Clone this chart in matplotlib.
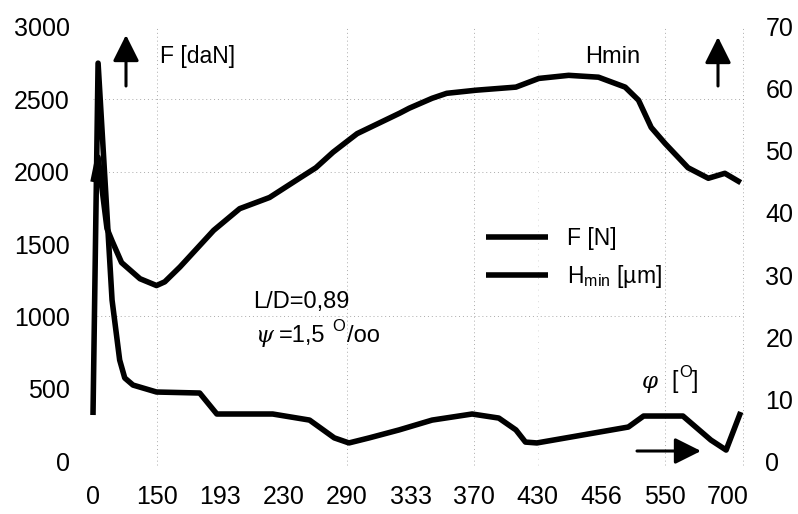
import matplotlib
matplotlib.use("Agg")
import matplotlib.pyplot as plt

plt.rcParams['font.family'] = ['Liberation Sans', 'DejaVu Sans']
plt.rcParams['mathtext.fontset'] = 'custom'
plt.rcParams['mathtext.rm'] = 'Liberation Sans'
plt.rcParams['mathtext.it'] = 'Liberation Sans:italic'

# crank angle categories shown on the x axis
phi_labels = ["0", "150", "193", "230", "290", "333", "370", "430", "456", "550", "700"]

# bearing load F [daN] (left axis), positions on the category scale
f_pos = [0.0, 0.08, 0.30, 0.42, 0.50, 0.63, 1.00, 1.68, 1.95, 2.83, 3.41, 3.80,
         4.03, 4.35, 4.82, 5.34, 5.97, 6.39, 6.66, 6.81, 6.99, 8.43, 8.67, 9.29,
         9.73, 9.97, 10.20]
f_dan = [318, 2750, 1113, 698, 574, 525, 477, 470, 325, 325, 283, 160,
         125, 160, 215, 283, 325, 297, 215, 131, 125, 235, 311, 311,
         145, 76, 339]

# minimum film thickness Hmin [um] (right axis)
h_pos = [0.0, 0.08, 0.22, 0.30, 0.45, 0.74, 1.00, 1.13, 1.37, 1.90, 2.31, 2.78,
         3.25, 3.51, 3.78, 4.02, 4.16, 4.83, 4.98, 5.34, 5.57, 6.03, 6.66, 7.02,
         7.49, 7.96, 8.38, 8.59, 8.79, 9.01, 9.37, 9.69, 9.95, 10.20]
h_um = [45.0, 49.0, 37.5, 35.5, 32.0, 29.4, 28.3, 28.9, 31.3, 37.2, 40.7, 42.5,
        45.6, 47.3, 49.8, 51.7, 52.8, 56.1, 56.9, 58.5, 59.3, 59.8, 60.3, 61.7,
        62.2, 61.9, 60.3, 58.2, 53.8, 51.2, 47.3, 45.6, 46.4, 44.9]

f_ticks = [0, 500, 1000, 1500, 2000, 2500, 3000]
h_ticks = [0, 10, 20, 30, 40, 50, 60, 70]

W, H = 798, 514


def fx(px):
    return px / W


def fy(py):
    return 1 - py / H


fig = plt.figure(figsize=(W / 100, H / 100), dpi=100)
ax = fig.add_axes([fx(85), fy(475.5), (750 - 85) / W, (475.5 - 12.5) / H])
ax2 = ax.twinx()

for a in (ax, ax2):
    for s in a.spines.values():
        s.set_visible(False)
    a.set_facecolor('none')

ax.set_xlim(-0.126, 10.346)
ax.set_ylim(-100, 3100)
ax2.set_ylim(-100 * 70 / 3000, 3100 * 70 / 3000)

ax.set_xticks(range(len(phi_labels)))
ax.set_xticklabels(phi_labels)
ax.set_yticks(f_ticks)
ax2.set_yticks(h_ticks)
ax.tick_params(axis='x', length=0, pad=7, labelsize=18)
ax.tick_params(axis='y', length=0, pad=11, labelsize=18)
ax2.tick_params(axis='y', length=0, pad=11, labelsize=18)

# sparse dotted grid
grid_kw = dict(color='0.45', lw=0.7, ls=(0, (1, 3)), alpha=0.6, zorder=0)
for gx in (1, 4, 6, 9, 10.24):
    ax.plot([gx, gx], [-30, 3000], **grid_kw)
ax.plot([7, 7], [-30, 3000], color='0.6', lw=0.6, ls=(0, (1, 6)), alpha=0.5, zorder=0)
for gy in (1000, 2000, 2500):
    ax.plot([0, 10.24], [gy, gy], **grid_kw)

line_f, = ax.plot(f_pos, f_dan, color='black', lw=4, solid_joinstyle='round',
                  solid_capstyle='butt', zorder=3)
line_h, = ax2.plot(h_pos, h_um, color='black', lw=4, solid_joinstyle='round',
                   solid_capstyle='butt', zorder=3)

fig.legend([line_f, line_h], ["F [N]", r"H$_{\mathrm{min}}$ [µm]"],
           loc='upper left', bbox_to_anchor=(fx(486), fy(227)), frameon=False,
           handlelength=2.7, handletextpad=0.85, labelspacing=0.55,
           fontsize=16.5, borderaxespad=0, borderpad=0)

tsz = 16.5
fig.text(fx(160), fy(63), "F [daN]", fontsize=tsz, va='baseline')
fig.text(fx(585), fy(63), "Hmin", fontsize=17, va='baseline')
fig.text(fx(253), fy(308), "L/D=0,89", fontsize=17, va='baseline')
fig.text(fx(255), fy(342), "ψ", fontsize=tsz, va='baseline', style='italic',
         family=['DejaVu Serif'])
fig.text(fx(279), fy(342), "=1,5", fontsize=17, va='baseline')
fig.text(fx(332), fy(334), "O", fontsize=12, va='bottom')
fig.text(fx(347), fy(342), "/oo", fontsize=17, va='baseline')
fig.text(fx(642), fy(388), "φ", fontsize=tsz, va='baseline', style='italic',
         family=['DejaVu Serif'])
fig.text(fx(671), fy(388), "[", fontsize=tsz, va='baseline')
fig.text(fx(679), fy(380), "O", fontsize=12, va='bottom')
fig.text(fx(692), fy(388), "]", fontsize=tsz, va='baseline')


def arrow(x0, y0, x1, y1):
    ax.annotate('', xy=(x1, H - y1), xytext=(x0, H - y0),
                xycoords='figure pixels', textcoords='figure pixels',
                arrowprops=dict(arrowstyle='-|>,head_length=0.8,head_width=0.4',
                                mutation_scale=20, lw=2.2, color='black',
                                shrinkA=0, shrinkB=0))


arrow(126, 86, 126, 35)
arrow(718, 86, 718, 37)
arrow(637, 451, 701, 451)

fig.savefig("out.png", dpi=100)
